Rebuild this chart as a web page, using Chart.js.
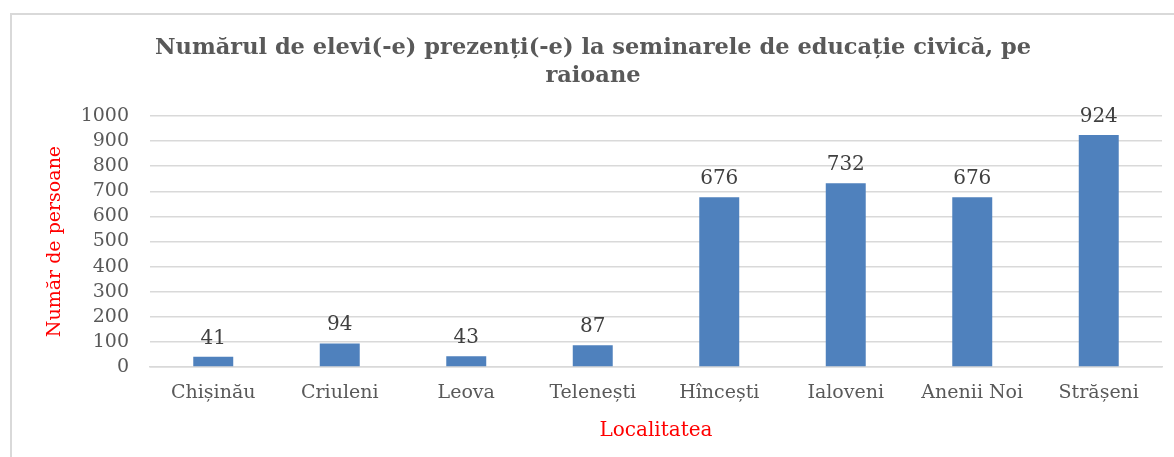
<!DOCTYPE html>
<html>
<head>
<meta charset="utf-8">
<script src="https://cdn.jsdelivr.net/npm/chart.js@4"></script>
<style>
  html, body { margin: 0; padding: 0; background: #fff; overflow: hidden; }
  #wrap { position: relative; width: 1174px; height: 457px; }
  #frame {
    position: absolute; left: 10px; top: 13px; width: 1200px; height: 500px;
    border: 2px solid #d9d9d9; box-sizing: border-box;
  }
  canvas { position: absolute; left: 0; top: 0; }
</style>
</head>
<body>
<div id="wrap">
  <div id="frame"></div>
  <canvas id="chart" width="1174" height="457"></canvas>
</div>
<script>
const LOCALITIES = ['Chișinău', 'Criuleni', 'Leova', 'Telenești', 'Hîncești', 'Ialoveni', 'Anenii Noi', 'Strășeni'];
const STUDENTS   = [41, 94, 43, 87, 676, 732, 676, 924];
const TITLE_LINES = ['Numărul de elevi(-e) prezenți(-e) la seminarele de educație civică, pe', 'raioane'];
const Y_TITLE = 'Număr de persoane';
const X_TITLE = 'Localitatea';

const SERIF = "'DejaVu Serif', serif";

// value labels above each bar
const barValues = {
  id: 'barValues',
  afterDatasetsDraw(chart) {
    const ctx  = chart.ctx;
    const meta = chart.getDatasetMeta(0);
    ctx.save();
    ctx.font = '20px ' + SERIF;
    ctx.fillStyle = '#404040';
    ctx.textAlign = 'center';
    ctx.textBaseline = 'alphabetic';
    meta.data.forEach((bar, i) => {
      ctx.fillText(String(STUDENTS[i]), bar.x, bar.y - 13);
    });
    ctx.restore();
  }
};

const ctx = document.getElementById('chart').getContext('2d');
new Chart(ctx, {
  type: 'bar',
  data: {
    labels: LOCALITIES,
    datasets: [{
      data:            STUDENTS,
      backgroundColor: '#4F81BD',
      borderWidth:     0,
      barPercentage:   0.316,
      categoryPercentage: 1
    }]
  },
  options: {
    responsive: false,
    animation:  false,
    layout: { padding: { left: 24, right: 12, top: 0, bottom: 10 } },
    plugins: {
      legend:  { display: false },
      tooltip: { enabled: false },
      title: {
        display: true,
        text: TITLE_LINES,
        color: '#595959',
        font: { family: SERIF, size: 22.5, weight: 'bold', lineHeight: 1.245 },
        padding: { top: 34, bottom: 26 }
      }
    },
    scales: {
      x: {
        grid:   { display: false, drawTicks: false },
        border: { display: true, color: '#d9d9d9', width: 1.5 },
        ticks:  { color: '#595959', font: { family: SERIF, size: 19 }, padding: 15, maxRotation: 0, autoSkip: false },
        title:  { display: true, text: X_TITLE, color: '#ff0000', font: { family: SERIF, size: 20 }, padding: { top: 0, bottom: 4 } },
        afterFit(scale) { scale.height = 80; }
      },
      y: {
        min: 0, max: 1000,
        grid:   { color: '#d9d9d9', lineWidth: 1.5, drawTicks: false },
        border: { display: false },
        ticks:  {
          stepSize: 100, autoSkip: false,
          color: '#595959', font: { family: SERIF, size: 19 }, padding: 21,
          callback: v => String(v)
        },
        title:  { display: true, text: Y_TITLE, color: '#ff0000', font: { family: SERIF, size: 19 }, padding: { top: 20, bottom: 0 } },
        afterFit(scale) { scale.width = 126; }
      }
    }
  },
  plugins: [barValues]
});
</script>
</body>
</html>
